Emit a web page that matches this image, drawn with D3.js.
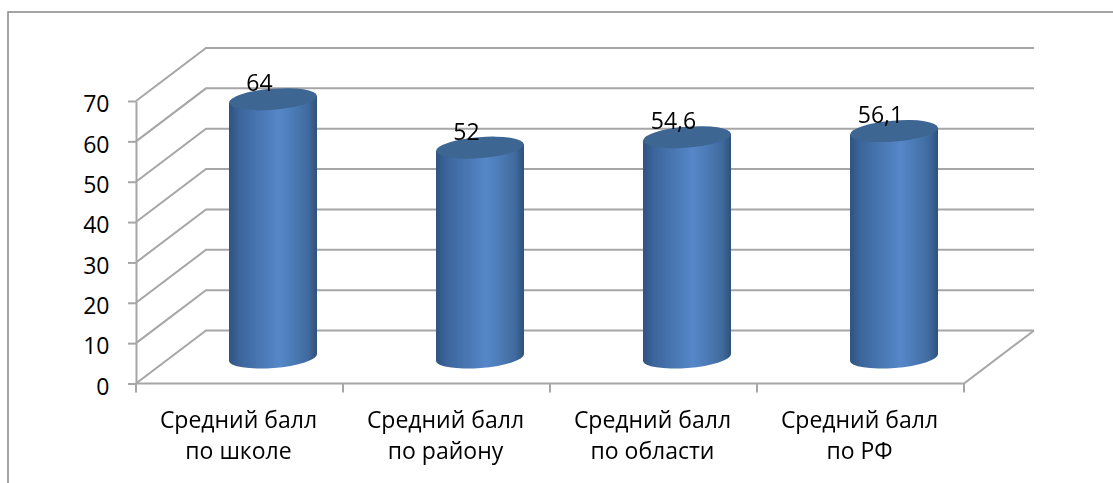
<!DOCTYPE html>
<html>
<head>
<meta charset="utf-8">
<script src="https://cdn.jsdelivr.net/npm/d3@7"></script>
<style>
    html, body { margin: 0; padding: 0; background: #fff; overflow: hidden; }
    text { font-family: "Open Sans", sans-serif; fill: #000; }
</style>
</head>
<body>
<div id="chart"></div>
<script>
const categories = ["Средний балл|по школе", "Средний балл|по району", "Средний балл|по области", "Средний балл|по РФ"];
const values = [64, 52, 54.6, 56.1];
const valueLabels = ["64", "52", "54,6", "56,1"];
const yTicks = [0, 10, 20, 30, 40, 50, 60, 70];

const width = 1113, height = 483;
const depth = { x: 70, y: -53 };      // floor depth of the fake 3D box
const gridColor = "#a6a6a6";
const fontSize = 23;

const svg = d3.select("#chart").append("svg")
    .attr("width", width)
    .attr("height", height);

const x = d3.scaleBand().domain(categories).range([136, 964]);
const y = d3.scaleLinear().domain([0, 70]).range([383.5, 101]);

// --- Cylinder shading ---
const defs = svg.append("defs");
const grad = defs.append("linearGradient").attr("id", "barFill");
[[0, "#2f5381"], [0.12, "#3c659b"], [0.57, "#5587c8"], [0.68, "#4f7fbc"], [0.9, "#3f6a9f"], [1, "#2f5178"]]
    .forEach(s => grad.append("stop").attr("offset", s[0]).attr("stop-color", s[1]));
defs.append("filter").attr("id", "soft")
    .append("feGaussianBlur").attr("stdDeviation", 0.6);

// --- Outer frame, cut off by the crop on the right and bottom ---
svg.append("path")
    .attr("d", `M8,${height}V12H${width}`)
    .attr("fill", "none")
    .attr("stroke", "#888")
    .attr("stroke-width", 1.5);

// --- Gridlines: side wall and back wall ---
const grid = svg.append("g")
    .attr("fill", "none")
    .attr("stroke", gridColor)
    .attr("stroke-width", 2)
    .attr("filter", "url(#soft)");

grid.selectAll("path")
    .data(yTicks)
    .join("path")
    .attr("d", d => {
        const [x0, x1] = x.range();
        return `M${x0},${y(d)}L${x0 + depth.x},${y(d) + depth.y}H${x1 + depth.x}`;
    });

// floor front and right edges
grid.append("path")
    .attr("d", `M${x.range()[0]},${y(0)}H${x.range()[1]}L${x.range()[1] + depth.x},${y(0) + depth.y}`);

// --- Axes ---
const yAxis = svg.append("g")
    .attr("transform", `translate(${x.range()[0]},0)`)
    .call(d3.axisLeft(y).tickValues(yTicks).tickSize(8).tickPadding(18.5).tickSizeOuter(0));
yAxis.selectAll("text")
    .attr("font-size", fontSize)
    .attr("dy", "0.465em");

const xTicks = categories.map(c => x(c)).concat(x.range()[1]);
svg.append("g")
    .selectAll("line")
    .data(xTicks)
    .join("line")
    .attr("x1", d => d)
    .attr("x2", d => d)
    .attr("y1", y(0))
    .attr("y2", y(0) + 9);

svg.selectAll(".domain, line")
    .attr("stroke", gridColor)
    .attr("stroke-width", 2);

// --- Cylinders ---
const rx = 44, ry = 10.5, tilt = -4.5;
const barCenter = d => x(d) + x.bandwidth() / 2 + depth.x / 2 - 1.5;
const baseY = y(0) + depth.y / 2 + 0.5;
const topY = v => y(v) + depth.y / 2 + 0.5;
const sideDrop = rx * Math.tan(-tilt * Math.PI / 180);

const bars = svg.append("g")
    .attr("filter", "url(#soft)")
    .selectAll("g")
    .data(categories)
    .join("g")
    .attr("transform", d => `translate(${barCenter(d)},0)`);

bars.append("path")
    .attr("fill", "url(#barFill)")
    .attr("d", (d, i) => {
        const t = topY(values[i]);
        return `M${-rx},${t + sideDrop}L${rx},${t - sideDrop}V${baseY - sideDrop}`
            + `A${rx},${ry} ${tilt} 0 1 ${-rx},${baseY + sideDrop}Z`;
    });

bars.append("ellipse")
    .attr("rx", rx)
    .attr("ry", ry)
    .attr("fill", "#3c6692")
    .attr("transform", (d, i) => `translate(0,${topY(values[i])}) rotate(${tilt})`);

// --- Value labels ---
svg.append("g")
    .selectAll("text")
    .data(categories)
    .join("text")
    .attr("x", d => barCenter(d) - 13.5)
    .attr("y", (d, i) => topY(values[i]) - 8)
    .attr("text-anchor", "middle")
    .attr("font-size", fontSize)
    .text((d, i) => valueLabels[i]);

// --- Category labels ---
const catText = svg.append("g")
    .selectAll("text")
    .data(categories)
    .join("text")
    .attr("text-anchor", "middle")
    .attr("font-size", fontSize);

catText.selectAll("tspan")
    .data(d => d.split("|").map(line => ({ line, c: d })))
    .join("tspan")
    .attr("x", d => x(d.c) + x.bandwidth() / 2 - 1)
    .attr("y", (d, i) => 428 + i * 31)
    .text(d => d.line);
</script>
</body>
</html>
